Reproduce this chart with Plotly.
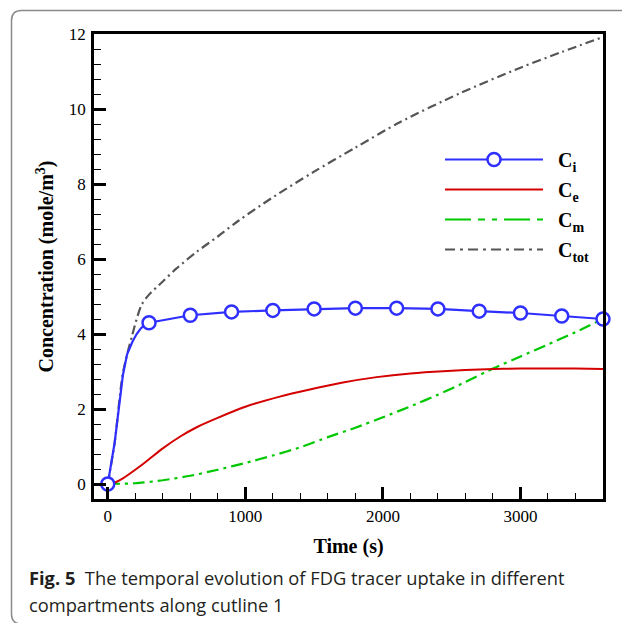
import plotly.graph_objects as go

# ---- data ----
ci_t = [0, 25, 50, 80, 110, 140, 180, 210, 240, 270, 300, 600, 900, 1200, 1500, 1800, 2100, 2400, 2700, 3000, 3300, 3600]
ci_v = [0, 0.5, 1.1, 2.0, 2.9, 3.45, 3.8, 4.0, 4.15, 4.25, 4.3, 4.5, 4.59, 4.63, 4.67, 4.69, 4.69, 4.67, 4.61, 4.56, 4.48, 4.4]
ci_mark_t = [0, 300, 600, 900, 1200, 1500, 1800, 2100, 2400, 2700, 3000, 3300, 3600]
ci_mark_v = [0, 4.3, 4.5, 4.59, 4.63, 4.67, 4.69, 4.69, 4.67, 4.61, 4.56, 4.48, 4.4]

ce_t = [0, 40, 110, 200, 280, 400, 524, 650, 790, 1000, 1250, 1469, 1700, 1954, 2200, 2439, 2753, 3000, 3166, 3400, 3600]
ce_v = [0, 0.02, 0.15, 0.38, 0.6, 0.95, 1.26, 1.52, 1.75, 2.06, 2.33, 2.52, 2.7, 2.85, 2.95, 3.01, 3.06, 3.08, 3.08, 3.08, 3.07]

cm_t = [0, 200, 400, 600, 800, 1000, 1200, 1400, 1600, 1800, 2000, 2200, 2400, 2600, 2800, 3000, 3200, 3400, 3600]
cm_v = [0, 0.02, 0.1, 0.22, 0.38, 0.56, 0.76, 0.98, 1.25, 1.5, 1.78, 2.07, 2.38, 2.72, 3.08, 3.4, 3.72, 4.05, 4.4]

ctot_t = [0, 50, 110, 180, 245, 300, 400, 500, 650, 800, 950, 1190, 1500, 1800, 2120, 2560, 3000, 3300, 3600]
ctot_v = [0, 1.1, 2.95, 4.0, 4.77, 5.05, 5.4, 5.75, 6.2, 6.6, 7.02, 7.62, 8.33, 8.97, 9.64, 10.42, 11.1, 11.52, 11.92]

x_ticks = [0, 1000, 2000, 3000]
y_ticks = [0, 2, 4, 6, 8, 10, 12]

names = ["C<sub>i</sub>", "C<sub>e</sub>", "C<sub>m</sub>", "C<sub>tot</sub>"]

BLUE = "#2f2fff"
RED = "#d40000"
GREEN = "#00c800"
GRAY = "#555555"
SERIF = "Liberation Serif"

fig = go.Figure()

# Ctot first (behind)
fig.add_trace(go.Scatter(x=ctot_t, y=ctot_v, mode="lines", line=dict(color=GRAY, width=2.2, dash="9px,4px,2px,4px", shape="spline", smoothing=0.8),
                         showlegend=False, legendgroup="g4"))
fig.add_trace(go.Scatter(x=cm_t, y=cm_v, mode="lines", line=dict(color=GREEN, width=2.2, dash="12px,5px,3px,5px", shape="spline", smoothing=0.6),
                         showlegend=False, legendgroup="g3"))
fig.add_trace(go.Scatter(x=ce_t, y=ce_v, mode="lines", line=dict(color=RED, width=2, shape="spline", smoothing=0.6),
                         showlegend=False, legendgroup="g2"))
fig.add_trace(go.Scatter(x=ci_t, y=ci_v, mode="lines", line=dict(color=BLUE, width=2.2),
                         showlegend=False, legendgroup="g1"))
fig.add_trace(go.Scatter(x=ci_mark_t, y=ci_mark_v, mode="markers", cliponaxis=False,
                         marker=dict(symbol="circle", size=13, color="white", line=dict(color=BLUE, width=2.5)),
                         showlegend=False, legendgroup="g1"))

# legend entries
SP = "&#8194;"
fig.add_trace(go.Scatter(x=[None], y=[None], mode="lines+markers", name=SP + "<b>" + names[0] + "</b>", legendgroup="g1",
                         line=dict(color=BLUE, width=2.2),
                         marker=dict(symbol="circle", size=13, color="white", line=dict(color=BLUE, width=2.5))))
fig.add_trace(go.Scatter(x=[None], y=[None], mode="lines", name=SP + "<b>" + names[1] + "</b>", legendgroup="g2",
                         line=dict(color=RED, width=2)))
fig.add_trace(go.Scatter(x=[None], y=[None], mode="lines", name=SP + "<b>" + names[2] + "</b>", legendgroup="g3",
                         line=dict(color=GREEN, width=2.2, dash="26px,7px,7px,7px,5px,7px")))
fig.add_trace(go.Scatter(x=[None], y=[None], mode="lines", name=SP + "<b>" + names[3] + "</b>", legendgroup="g4",
                         line=dict(color=GRAY, width=2.2, dash="10px,5px,3px,5px")))

# page body has an 8px margin: work in window pixels, convert to figure pixels
OFF = 8
W, H = 630 - OFF, 623 - OFF
L, T = 94 - OFF, 34 - OFF
R = W - (603 - OFF)
B = H - (499 - OFF)
pw, ph = W - L - R, H - T - B


def px(x):
    return (x - OFF - L) / pw


def py(y):
    return (H - B - (y - OFF)) / ph


# rounded figure frame
x0, x1, y0, y1, r = px(11.5), px(640), py(10.5), py(624), 10
rx, ry = r / pw, r / ph
path = (f"M{x0},{y0 - ry} Q{x0},{y0} {x0 + rx},{y0} L{x1 - rx},{y0} Q{x1},{y0} {x1},{y0 - ry} "
        f"L{x1},{y1 + ry} Q{x1},{y1} {x1 - rx},{y1} L{x0 + rx},{y1} Q{x0},{y1} {x0},{y1 + ry} Z")
fig.add_shape(type="path", path=path, xref="paper", yref="paper", line=dict(color="#8a8a8a", width=1.5), layer="below")

axis_common = dict(showgrid=False, zeroline=False, showline=True, linecolor="black", linewidth=2.6, mirror=True,
                   ticks="inside", tickwidth=2.6, ticklen=12, tickcolor="black",
                   tickfont=dict(family=SERIF, size=17, color="black"))

fig.update_xaxes(range=[-100, 3600], tickvals=x_ticks, ticktext=[str(v) for v in x_ticks],
                 minor=dict(dtick=200, tick0=0, ticks="inside", ticklen=6, tickwidth=1.4, tickcolor="black"),
                 title=dict(text="<b>Time (s)</b>", font=dict(family=SERIF, size=20, color="black"), standoff=14),
                 **axis_common)
fig.update_yaxes(range=[-0.4, 12], tickvals=y_ticks, ticktext=[str(v) for v in y_ticks], ticklabelstandoff=2,
                 minor=dict(dtick=0.4, tick0=0, ticks="inside", ticklen=7, tickwidth=1.4, tickcolor="black"),
                 title=dict(text="<b>Concentration (mole/m<sup>3</sup>)</b>", font=dict(family=SERIF, size=20, color="black"), standoff=10),
                 **axis_common)

# caption
fig.add_annotation(x=px(27), y=py(577), xref="paper", yref="paper", xanchor="left", yanchor="middle", showarrow=False,
                   text="<b>Fig. 5</b>  The temporal evolution of FDG tracer uptake in different",
                   font=dict(family="Open Sans", size=18.3, color="#231f20"))
fig.add_annotation(x=px(27), y=py(604), xref="paper", yref="paper", xanchor="left", yanchor="middle", showarrow=False,
                   text="compartments along cutline 1",
                   font=dict(family="Open Sans", size=18.3, color="#231f20"))

fig.update_layout(
    width=W, height=H,
    margin=dict(l=L, r=R, t=T, b=B, autoexpand=False),
    paper_bgcolor="white", plot_bgcolor="white",
    legend=dict(x=px(440), y=py(140), xanchor="left", yanchor="top", bgcolor="rgba(0,0,0,0)",
                font=dict(family=SERIF, size=20, color="black"), itemwidth=98, tracegroupgap=1,
                traceorder="grouped"),
)

fig.write_html("out.html")
